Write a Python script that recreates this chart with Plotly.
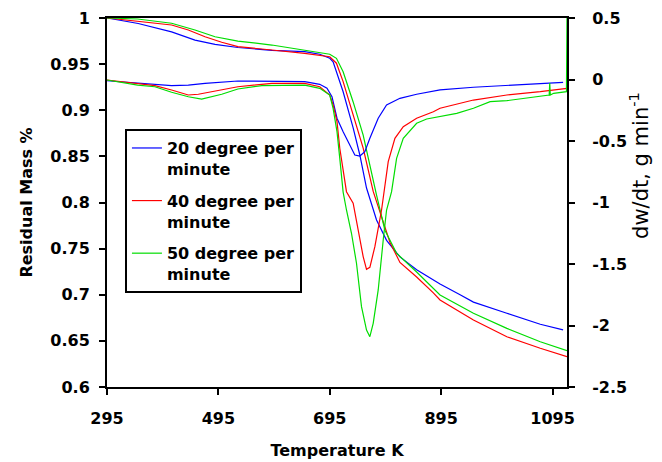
import plotly.graph_objects as go

# ---------------- data ----------------
series_names = ["20 degree per<br>minute", "40 degree per<br>minute", "50 degree per<br>minute"]

blue_mass_T = [295, 351, 411, 453, 489, 530, 591, 650, 677, 695, 701, 719, 737, 749, 761, 779, 797,
               821, 851, 881, 893, 929, 953, 1013, 1073, 1114]
blue_mass = [1.0, 0.994, 0.985, 0.976, 0.9715, 0.968, 0.965, 0.9635, 0.9607, 0.9563, 0.9526, 0.920,
             0.881, 0.8515, 0.8157, 0.781, 0.759, 0.741, 0.727, 0.716, 0.7117, 0.700, 0.692, 0.680,
             0.668, 0.662]

red_mass_T = [295, 351, 411, 441, 471, 501, 530, 591, 650, 695, 707, 719, 737, 755, 773, 788, 803,
              821, 851, 881, 893, 953, 1013, 1073, 1121]
red_mass = [1.0, 0.9967, 0.9924, 0.987, 0.9797, 0.9737, 0.9689, 0.9653, 0.9617, 0.958, 0.951, 0.931,
            0.895, 0.859, 0.812, 0.785, 0.757, 0.735, 0.7193, 0.702, 0.6943, 0.6726, 0.6545, 0.642,
            0.633]

green_mass_T = [295, 350, 411, 453, 489, 530, 591, 650, 695, 707, 719, 737, 755, 779, 794, 815, 851,
                893, 953, 1013, 1073, 1121]
green_mass = [1.0, 0.9989, 0.9943, 0.987, 0.9797, 0.975, 0.9707, 0.9653, 0.9607, 0.9563, 0.9418,
              0.909, 0.873, 0.808, 0.770, 0.745, 0.7247, 0.6997, 0.680, 0.6636, 0.649, 0.6394]

blue_rate_T = [295, 350, 411, 441, 471, 530, 591, 650, 677, 690, 699, 708, 719, 731, 740, 749, 758,
               767, 782, 797, 821, 851, 881, 893, 953, 1013, 1073, 1114]
blue_rate = [-0.01, -0.031, -0.05, -0.045, -0.031, -0.012, -0.012, -0.018, -0.039, -0.071, -0.14,
             -0.315, -0.424, -0.532, -0.614, -0.622, -0.587, -0.478, -0.315, -0.207, -0.153, -0.12,
             -0.099, -0.085, -0.063, -0.05, -0.037, -0.023]

red_rate_T = [295, 350, 381, 411, 441, 459, 501, 530, 591, 650, 677, 695, 701, 708, 713, 719, 725,
              737, 746, 755, 761, 767, 776, 782, 788, 800, 812, 827, 851, 881, 893, 953, 1013, 1073,
              1121]
red_rate = [-0.004, -0.031, -0.05, -0.085, -0.126, -0.12, -0.085, -0.059, -0.031, -0.031, -0.059,
            -0.126, -0.207, -0.343, -0.559, -0.722, -0.912, -1.006, -1.224, -1.44, -1.543, -1.527,
            -1.359, -1.224, -1.061, -0.668, -0.478, -0.384, -0.315, -0.262, -0.234, -0.167, -0.126,
            -0.099, -0.072]

green_rate_T = [295, 350, 381, 411, 441, 465, 501, 530, 573, 620, 650, 677, 695, 701, 708, 713, 719,
                725, 734, 743, 752, 761, 767, 773, 782, 791, 797, 806, 815, 827, 851, 869, 893, 923,
                953, 983, 1013, 1043, 1085, 1089, 1090, 1091, 1097, 1120, 1121]
green_rate = [-0.004, -0.045, -0.059, -0.104, -0.14, -0.159, -0.12, -0.077, -0.05, -0.045, -0.045,
              -0.072, -0.126, -0.234, -0.424, -0.641, -0.915, -1.061, -1.25, -1.494, -1.847, -2.037,
              -2.091, -1.982, -1.711, -1.305, -1.061, -0.912, -0.641, -0.478, -0.356, -0.321, -0.302,
              -0.275, -0.234, -0.18, -0.172, -0.153, -0.126, -0.126, -0.028, -0.126, -0.112, -0.099,
              0.5]

x_ticks = [295, 495, 695, 895, 1095]
x_tick_labels = ["295", "495", "695", "895", "1095"]
y_ticks = [0.6, 0.65, 0.7, 0.75, 0.8, 0.85, 0.9, 0.95, 1.0]
y_tick_labels = ["0.6", "0.65", "0.7", "0.75", "0.8", "0.85", "0.9", "0.95", "1"]
y2_ticks = [-2.5, -2.0, -1.5, -1.0, -0.5, 0.0, 0.5]
y2_tick_labels = ["-2.5", "-2", "-1.5", "-1", "-0.5", "0", "0.5"]

colors = ["#0000ff", "#ff0000", "#00dd00"]

# ---------------- figure ----------------
FONT = "DejaVu Sans"
fig = go.Figure()

mass_sets = [(blue_mass_T, blue_mass), (red_mass_T, red_mass), (green_mass_T, green_mass)]
rate_sets = [(blue_rate_T, blue_rate), (red_rate_T, red_rate), (green_rate_T, green_rate)]

for i, ((mt, mv), (rt, rv)) in enumerate(zip(mass_sets, rate_sets)):
    fig.add_trace(go.Scatter(x=mt, y=mv, mode="lines", name=series_names[i],
                             legendgroup=f"g{i}", line=dict(color=colors[i], width=1.2),
                             yaxis="y"))
    fig.add_trace(go.Scatter(x=rt, y=rv, mode="lines", name=series_names[i],
                             legendgroup=f"g{i}", showlegend=False,
                             line=dict(color=colors[i], width=1.2), yaxis="y2"))

tickfont = dict(family=FONT, size=16, color="black", weight="bold")

# the page body has an 8px margin, so the figure is sized to fit the window
fig.update_layout(
    width=654, height=454,
    margin=dict(l=99, r=95, t=10, b=75, autoexpand=False),
    paper_bgcolor="white", plot_bgcolor="white",
    showlegend=True,
    legend=dict(x=0.039, y=0.699, xanchor="left", yanchor="top",
                bgcolor="white", bordercolor="black", borderwidth=2,
                font=dict(family=FONT, size=16, color="black", weight="bold"),
                valign="top", traceorder="grouped", tracegroupgap=8),
    xaxis=dict(range=[295, 1121], tickvals=x_ticks, ticktext=x_tick_labels,
               ticks="outside", ticklen=6, tickwidth=1.5, tickcolor="black",
               ticklabelstandoff=10, automargin=False,
               showline=True, linecolor="black", linewidth=2, mirror=True,
               showgrid=False, zeroline=False, tickfont=tickfont,
               title=dict(text="Temperature K", standoff=18,
                          font=dict(family=FONT, size=16, color="black", weight="bold"))),
    yaxis=dict(range=[0.6, 1.0], tickvals=y_ticks, ticktext=y_tick_labels,
               ticks="outside", ticklen=6, tickwidth=1.5, tickcolor="black",
               ticklabelstandoff=6, automargin=False,
               showline=True, linecolor="black", linewidth=2,
               showgrid=False, zeroline=False, tickfont=tickfont,
               title=dict(text="Residual Mass %", standoff=14,
                          font=dict(family=FONT, size=16, color="black", weight="bold"))),
    yaxis2=dict(range=[-2.5, 0.5], tickvals=y2_ticks, ticktext=y2_tick_labels,
                overlaying="y", side="right",
                ticks="outside", ticklen=6, tickwidth=1.5, tickcolor="black",
                ticklabelstandoff=14, automargin=False,
                showline=True, linecolor="black", linewidth=2,
                showgrid=False, zeroline=False, tickfont=tickfont),
    yaxis3=dict(range=[-2.5, 0.5], tickvals=y2_ticks, overlaying="y", side="right",
                ticks="inside", ticklen=6, tickwidth=1.5, tickcolor="black", automargin=False,
                showticklabels=False, showline=False, showgrid=False, zeroline=False),
    annotations=[dict(text="dw/dt, g min<sup>-1</sup>", textangle=-90,
                      xref="paper", yref="paper", x=1.155, y=0.60,
                      xanchor="center", yanchor="middle", showarrow=False,
                      font=dict(family=FONT, size=21, color="black"))],
)

fig.write_html("out.html")
